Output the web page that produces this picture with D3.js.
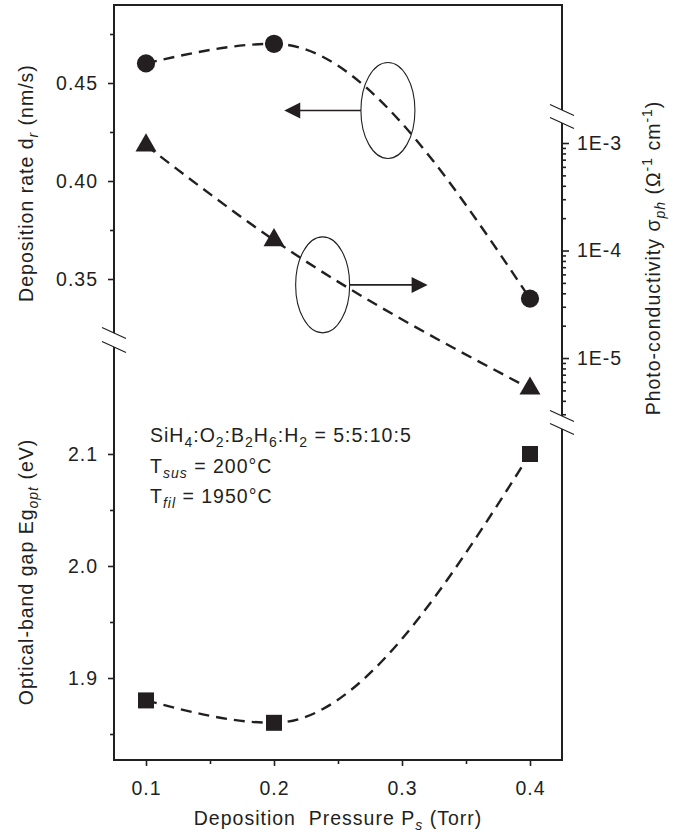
<!DOCTYPE html>
<html>
<head>
<meta charset="utf-8">
<script src="https://cdn.jsdelivr.net/npm/d3@7"></script>
<style>
  body { margin: 0; background: #fff; }
  svg { display: block; }
  text { font-family: "Liberation Sans", Arial, sans-serif; fill: #231f20; }
</style>
</head>
<body>
<svg id="chart" width="674" height="832"></svg>
<script>
// ---- data ----
const pressure = [0.1, 0.2, 0.4];
const depRate = [0.46, 0.47, 0.34];          // nm/s, circles, left upper axis
const photoCond = [9.5e-4, 1.25e-4, 5.2e-6]; // S/cm, triangles, right log axis
const bandGap = [1.88, 1.86, 2.10];          // eV, squares, left lower axis

const xTicks = [0.1, 0.2, 0.3, 0.4];
const xMinor = [0.15, 0.25, 0.35];
const rateTicks = [0.35, 0.40, 0.45];
const rateMinor = [0.375, 0.425, 0.475];
const gapTicks = [1.9, 2.0, 2.1];
const gapMinor = [1.85, 1.95, 2.05];
const condTicks = [1e-5, 1e-4, 1e-3];

// the two "which axis" ovals with arrows
const ovalX = [0.289, 0.238];
const ovalY = [0.436, 0.347];   // in deposition-rate units
const arrowTo = [0.208, 0.320];

const INK = "#231f20";
const FS = 19.5;

const svg = d3.select("#chart");

const pLeft = 114, pRight = 562, pTop = 5, pBottom = 760;
const breakL = [333, 347];
const breakR1 = [110, 123];
const breakR2 = [416, 429];

const x = d3.scaleLinear().domain([0.075, 0.425]).range([pLeft, pRight]);
const yRate = d3.scaleLinear().domain([0.32245, 0.4898]).range([breakL[0], pTop]);
const yGap = d3.scaleLinear().domain([1.8268, 2.1955]).range([pBottom, breakL[1]]);
const yCond = d3.scaleLog().domain([2.89e-6, 1.535e-3]).range([breakR2[0], breakR1[1]]);

function richText(t, parts) {
    let shift = 0;
    parts.forEach(p => {
        const kind = p[1] || "";
        const ts = t.append("tspan").text(p[0]);
        let target = 0;
        if (kind.indexOf("sub") >= 0) target = 5;
        if (kind === "sup") target = -8;
        ts.attr("dy", target - shift);
        shift = target;
        if (kind) ts.style("font-size", "14px");
        if (kind[0] === "i") ts.style("font-style", "italic");
    });
    return t;
}

function styleAxis(g) {
    g.select(".domain").remove();
    g.selectAll(".tick line").attr("stroke", INK).attr("stroke-width", 1.6);
    g.selectAll(".tick text")
        .style("font-size", FS + "px")
        .style("letter-spacing", "1px")
        .attr("fill", INK);
}

// ---- axes ----
svg.append("g").attr("transform", `translate(0,${pBottom})`)
    .call(d3.axisBottom(x).tickValues(xTicks).tickSize(6).tickPadding(15).tickFormat(d3.format(".1f")))
    .call(styleAxis);
svg.append("g").attr("transform", `translate(0,${pBottom})`)
    .call(d3.axisBottom(x).tickValues(xMinor).tickSize(4).tickFormat(""))
    .call(styleAxis);

svg.append("g").attr("transform", `translate(${pLeft},0)`)
    .call(d3.axisLeft(yRate).tickValues(rateTicks).tickSize(6).tickPadding(10).tickFormat(d3.format(".2f")))
    .call(styleAxis);
svg.append("g").attr("transform", `translate(${pLeft},0)`)
    .call(d3.axisLeft(yRate).tickValues(rateMinor).tickSize(4).tickFormat(""))
    .call(styleAxis);

svg.append("g").attr("transform", `translate(${pLeft},0)`)
    .call(d3.axisLeft(yGap).tickValues(gapTicks).tickSize(6).tickPadding(10).tickFormat(d3.format(".1f")))
    .call(styleAxis);
svg.append("g").attr("transform", `translate(${pLeft},0)`)
    .call(d3.axisLeft(yGap).tickValues(gapMinor).tickSize(4).tickFormat(""))
    .call(styleAxis);

const condMinor = yCond.ticks().filter(d =>
    Math.abs(Math.log10(d) - Math.round(Math.log10(d))) > 1e-6);
svg.append("g").attr("transform", `translate(${pRight},0)`)
    .call(d3.axisRight(yCond).tickValues(condTicks).tickSize(7).tickPadding(8)
        .tickFormat(d => "1E" + Math.round(Math.log10(d))))
    .call(styleAxis);
svg.append("g").attr("transform", `translate(${pRight},0)`)
    .call(d3.axisRight(yCond).tickValues(condMinor).tickSize(4).tickFormat(""))
    .call(styleAxis);

// ---- frame with broken vertical axes ----
const frame = svg.append("g").attr("stroke", INK).attr("stroke-width", 2).attr("fill", "none");
frame.append("line").attr("x1", pLeft - 1).attr("x2", pRight + 1).attr("y1", pTop).attr("y2", pTop);
frame.append("line").attr("x1", pLeft - 1).attr("x2", pRight + 1).attr("y1", pBottom).attr("y2", pBottom);
[[pTop, breakL[0]], [breakL[1], pBottom]].forEach(s => {
    frame.append("line").attr("x1", pLeft).attr("x2", pLeft).attr("y1", s[0]).attr("y2", s[1]);
});
[[pTop, breakR1[0]], [breakR1[1], breakR2[0]], [breakR2[1], pBottom]].forEach(s => {
    frame.append("line").attr("x1", pRight).attr("x2", pRight).attr("y1", s[0]).attr("y2", s[1]);
});

// break marks
const breaks = svg.append("g").attr("stroke", INK).attr("stroke-width", 1.2);
[[pLeft, breakL], [pRight, breakR1], [pRight, breakR2]].forEach(b => {
    b[1].forEach(yy => {
        breaks.append("line")
            .attr("x1", b[0] - 12).attr("y1", yy - 5.5)
            .attr("x2", b[0] + 12).attr("y2", yy + 5.5);
    });
});

// ---- dashed curves ----
function dashed(yScale, values) {
    const line = d3.line()
        .x((d, i) => x(pressure[i]))
        .y(d => yScale(d))
        .curve(d3.curveMonotoneX);
    svg.append("path")
        .attr("d", line(values))
        .attr("fill", "none")
        .attr("stroke", INK)
        .attr("stroke-width", 2.4)
        .attr("stroke-dasharray", "11,7");
}
dashed(yRate, depRate);
dashed(yCond, photoCond);
dashed(yGap, bandGap);

// ---- markers ----
function markers(yScale, values, type, size) {
    svg.append("g").selectAll("path")
        .data(values)
        .join("path")
        .attr("transform", (d, i) => `translate(${x(pressure[i])},${yScale(d)})`)
        .attr("d", d3.symbol().type(type).size(size))
        .attr("fill", INK);
}
markers(yRate, depRate, d3.symbolCircle, 260);
markers(yCond, photoCond, d3.symbolTriangle, 190);
markers(yGap, bandGap, d3.symbolSquare, 256);

// ---- ovals and arrows ----
const ann = svg.append("g");
ovalX.forEach((ox, i) => {
    const cx = x(ox), cy = yRate(ovalY[i]);
    const tip = x(arrowTo[i]);
    const dir = tip < cx ? -1 : 1;
    const start = cx + dir * 27;
    ann.append("ellipse")
        .attr("cx", cx).attr("cy", cy).attr("rx", 27).attr("ry", 48)
        .attr("fill", "none").attr("stroke", INK).attr("stroke-width", 1.1);
    ann.append("line")
        .attr("x1", start).attr("x2", tip - dir * 14)
        .attr("y1", cy).attr("y2", cy)
        .attr("stroke", INK).attr("stroke-width", 1.6);
    ann.append("path")
        .attr("d", `M${tip},${cy}L${tip - dir * 16},${cy - 8}L${tip - dir * 16},${cy + 8}Z`)
        .attr("fill", INK);
});

// ---- text annotations ----
const note = svg.append("g").style("font-size", FS + "px").style("letter-spacing", "1px");
richText(note.append("text").attr("x", 150).attr("y", 442),
    [["SiH"], ["4", "sub"], [":O"], ["2", "sub"], [":B"], ["2", "sub"], ["H"], ["6", "sub"],
     [":H"], ["2", "sub"], [" = 5:5:10:5"]]);
richText(note.append("text").attr("x", 150).attr("y", 473),
    [["T"], ["sus", "isub"], [" = 200°C"]]);
richText(note.append("text").attr("x", 150).attr("y", 503),
    [["T"], ["fil", "isub"], [" = 1950°C"]]);

// ---- axis titles ----
function title(xp, yp, rot, parts) {
    const t = svg.append("text")
        .attr("transform", `translate(${xp},${yp}) rotate(${rot})`)
        .attr("text-anchor", "middle")
        .style("font-size", FS + "px")
        .style("letter-spacing", "1px")
        .style("white-space", "pre");
    richText(t, parts);
}
title(338, 825, 0, [["Deposition  Pressure P"], ["s", "isub"], [" (Torr)"]]);
title(33, 183, -90, [["Deposition rate d"], ["r", "isub"], [" (nm/s)"]]);
title(33, 572, -90, [["Optical-band gap Eg"], ["opt", "isub"], [" (eV)"]]);
title(660, 258, -90, [["Photo-conductivity σ"], ["ph", "isub"], [" (Ω"], ["-1", "sup"], [" cm"], ["-1", "sup"], [")"]]);
</script>
</body>
</html>
